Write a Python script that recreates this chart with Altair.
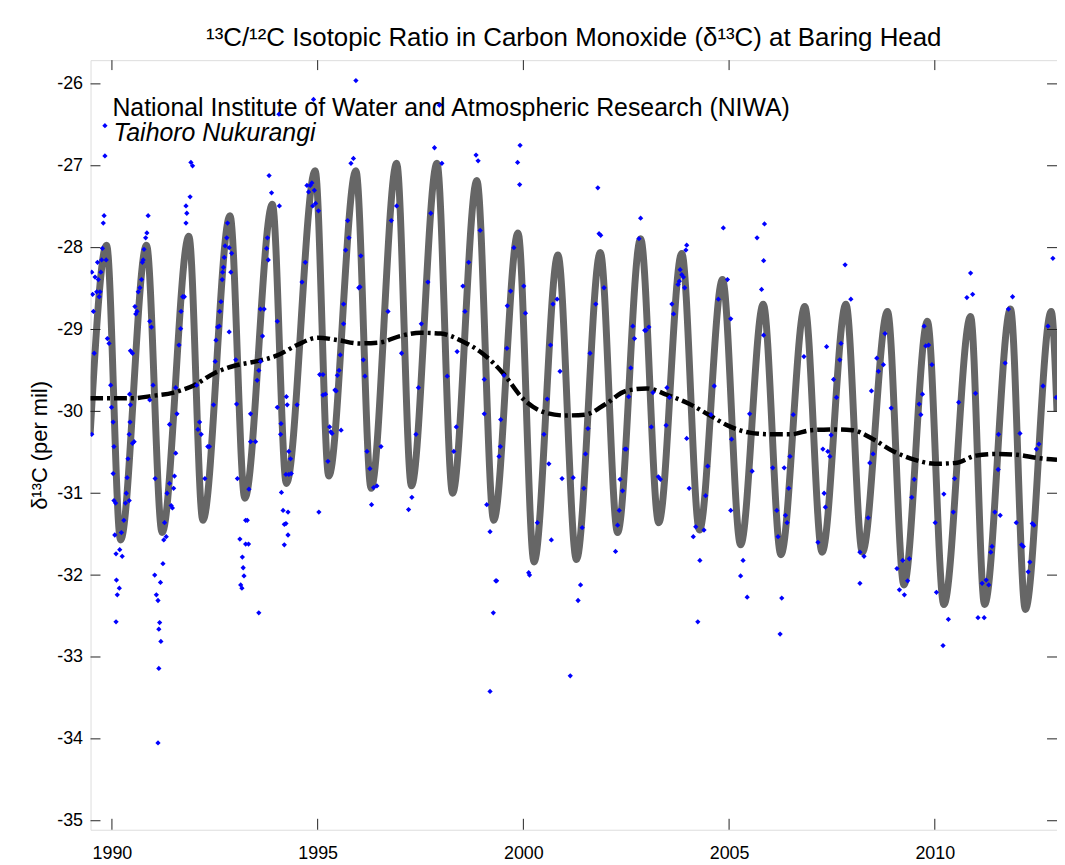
import altair as alt
import pandas as pd

TITLE = "¹³C/¹²C Isotopic Ratio in Carbon Monoxide (δ¹³C) at Baring Head"
Y_TITLE = "δ¹³C (per mil)"
NOTE1 = "National Institute of Water and Atmospheric Research (NIWA)"
NOTE2 = "Taihoro Nukurangi"

x_ticks = [1990, 1995, 2000, 2005, 2010]
y_ticks = [-26, -27, -28, -29, -30, -31, -32, -33, -34, -35]

# seasonal fit curve (turning points)
fit_year = [1989.47, 1989.87, 1990.21, 1990.84, 1991.22, 1991.87, 1992.21, 1992.87, 1993.23, 1993.90,
            1994.24, 1994.94, 1995.27, 1995.93, 1996.30, 1996.92, 1997.28, 1997.90, 1998.28, 1998.87,
            1999.28, 1999.87, 2000.26, 2000.84, 2001.29, 2001.87, 2002.29, 2002.85, 2003.29, 2003.85,
            2004.28, 2004.84, 2005.28, 2005.83, 2006.26, 2006.84, 2007.26, 2007.84, 2008.24, 2008.85,
            2009.25, 2009.82, 2010.22, 2010.87, 2011.21, 2011.84, 2012.20, 2012.83, 2012.97]
fit_val = [-30.28, -27.97, -31.57, -27.97, -31.48, -27.86, -31.33, -27.61, -31.06, -27.47,
           -30.88, -27.06, -30.79, -27.06, -30.94, -26.97, -30.91, -26.97, -31.00, -27.18,
           -31.33, -27.82, -31.84, -28.09, -31.81, -28.06, -31.48, -27.89, -31.36, -28.07,
           -31.45, -28.39, -31.63, -28.69, -31.75, -28.72, -31.72, -28.69, -31.72, -28.78,
           -32.12, -28.90, -32.36, -28.84, -32.36, -28.75, -32.42, -28.78, -30.0]

# long-term trend
trend_year = [1989.47, 1990.0, 1990.5, 1991.0, 1991.5, 1992.0, 1992.5, 1993.0, 1993.5, 1994.0,
              1994.5, 1995.0, 1995.5, 1996.0, 1996.5, 1997.0, 1997.5, 1998.0, 1998.5, 1999.0,
              1999.5, 2000.0, 2000.5, 2001.0, 2001.5, 2002.0, 2002.5, 2003.0, 2003.5, 2004.0,
              2004.5, 2005.0, 2005.5, 2006.0, 2006.5, 2007.0, 2007.5, 2008.0, 2008.5, 2009.0,
              2009.5, 2010.0, 2010.5, 2011.0, 2011.5, 2012.0, 2012.5, 2012.97]
trend_val = [-29.84, -29.84, -29.84, -29.81, -29.77, -29.68, -29.53, -29.44, -29.39, -29.32,
             -29.19, -29.10, -29.13, -29.17, -29.16, -29.08, -29.04, -29.05, -29.14, -29.29,
             -29.53, -29.85, -30.01, -30.05, -30.04, -29.91, -29.75, -29.72, -29.80, -29.90,
             -30.04, -30.18, -30.26, -30.28, -30.28, -30.23, -30.22, -30.23, -30.34, -30.49,
             -30.59, -30.64, -30.63, -30.54, -30.52, -30.53, -30.57, -30.59]

# flask observations
obs_year = [
    1989.51, 1989.53, 1989.55, 1989.57, 1989.51, 1989.59, 1989.63, 1989.65, 1989.67, 1989.69,
    1989.71, 1989.73, 1989.75, 1989.77, 1989.79, 1989.81, 1989.83, 1989.83, 1989.86, 1989.89,
    1989.93, 1989.97, 1989.99, 1990.03, 1990.05, 1990.03, 1990.05, 1990.09, 1990.07, 1990.10,
    1990.11, 1990.13, 1990.10, 1990.18, 1990.19, 1990.25, 1990.23, 1990.29, 1990.33, 1990.35,
    1990.37, 1990.39, 1990.42, 1990.44, 1990.45, 1990.43, 1990.50, 1990.54, 1990.42, 1990.45,
    1990.50, 1990.56, 1990.58, 1990.61, 1990.64, 1990.68, 1990.72, 1990.74, 1990.76, 1990.78,
    1990.82, 1990.85, 1990.88, 1990.92, 1990.96, 1991.00, 1990.92, 1991.05, 1991.04, 1991.08,
    1991.12, 1991.16, 1991.14, 1991.19, 1991.14, 1991.12, 1991.18, 1991.24, 1991.26, 1991.32,
    1991.28, 1991.34, 1991.40, 1991.44, 1991.47, 1991.50, 1991.52, 1991.40, 1991.55, 1991.58,
    1991.55, 1991.63, 1991.67, 1991.68, 1991.72, 1991.76, 1991.80, 1991.82, 1991.80, 1991.90,
    1991.92, 1991.96, 1992.06, 1992.09, 1992.13, 1992.17, 1992.26, 1992.33, 1992.37, 1992.47,
    1992.51, 1992.53, 1992.57, 1992.61, 1992.62, 1992.65, 1992.68, 1992.69, 1992.71, 1992.73,
    1992.75, 1992.79, 1992.81, 1992.85, 1992.89, 1992.91, 1992.85, 1993.01, 1993.03, 1993.05,
    1993.11, 1993.17, 1993.19, 1993.21, 1993.13, 1993.16, 1993.25, 1993.29, 1993.25, 1993.32,
    1993.33, 1993.37, 1993.37, 1993.49, 1993.57, 1993.53, 1993.57, 1993.61, 1993.66, 1993.61,
    1993.70, 1993.76, 1993.78, 1993.80, 1993.88, 1993.82, 1994.07, 1994.06, 1994.02, 1994.02,
    1994.11, 1994.10, 1994.12, 1994.16, 1994.19, 1994.23, 1994.28, 1994.28, 1994.19, 1994.23,
    1994.30, 1994.36, 1994.24, 1994.26, 1994.30, 1994.34, 1994.50, 1994.62, 1994.70, 1994.74,
    1994.78, 1994.82, 1994.86, 1994.88, 1994.90, 1994.92, 1994.95, 1995.02, 1995.03, 1995.05,
    1995.13, 1995.13, 1995.19, 1995.25, 1995.29, 1995.32, 1995.35, 1995.42, 1995.45, 1995.48,
    1995.52, 1995.55, 1995.57, 1995.63, 1995.63, 1995.68, 1995.73, 1995.76, 1995.81, 1995.87,
    1995.93, 1996.05, 1996.03, 1996.00, 1996.11, 1996.15, 1996.20, 1996.27, 1996.31, 1996.36,
    1996.44, 1996.54, 1996.71, 1996.79, 1996.92, 1997.04, 1997.21, 1997.29, 1997.39, 1997.45,
    1997.52, 1997.68, 1997.75, 1997.84, 1997.96, 1998.02, 1998.15, 1998.31, 1998.37, 1998.39,
    1998.53, 1998.58, 1998.67, 1998.85, 1998.90, 1998.95, 1999.05, 1999.05, 1999.11, 1999.19,
    1999.19, 1999.27, 1999.33, 1999.35, 1999.41, 1999.44, 1999.45, 1999.53, 1999.60, 1999.61,
    1999.69, 1999.77, 1999.86, 1999.92, 1999.91, 2000.01, 2000.05, 2000.13, 2000.15, 2000.34,
    2000.50, 2000.58, 2000.62, 2000.66, 2000.68, 2000.72, 2000.82, 2000.89, 2000.94, 2001.14,
    2001.21, 2001.33, 2001.39, 2001.43, 2001.47, 2001.51, 2001.57, 2001.62, 2001.76, 2001.81,
    2001.84, 2001.88, 2001.96, 2002.24, 2002.29, 2002.33, 2002.35, 2002.41, 2002.47, 2002.50,
    2002.56, 2002.61, 2002.66, 2002.70, 2002.85, 2002.81, 2002.95, 2002.98, 2003.05, 2003.11,
    2003.15, 2003.28, 2003.33, 2003.47, 2003.49, 2003.55, 2003.61, 2003.65, 2003.76, 2003.79,
    2003.81, 2003.85, 2003.89, 2003.92, 2003.95, 2003.97, 2003.97, 2004.03, 2004.13, 2004.19,
    2004.24, 2004.29, 2004.39, 2004.43, 2004.48, 2004.56, 2004.64, 2004.74, 2004.86, 2004.96,
    2005.04, 2005.04, 2005.06, 2005.28, 2005.34, 2005.44, 2005.50, 2005.56, 2005.68, 2005.79,
    2005.84, 2005.86, 2005.84, 2006.06, 2006.16, 2006.19, 2006.24, 2006.28, 2006.34, 2006.37,
    2006.41, 2006.45, 2006.48, 2006.56, 2006.82, 2007.16, 2007.28, 2007.31, 2007.34, 2007.37,
    2007.40, 2007.45, 2007.48, 2007.54, 2007.61, 2007.69, 2007.72, 2007.82, 2007.96, 2008.18,
    2008.18, 2008.28, 2008.38, 2008.42, 2008.46, 2008.50, 2008.59, 2008.63, 2008.75, 2008.79,
    2008.94, 2009.08, 2009.14, 2009.22, 2009.26, 2009.34, 2009.38, 2009.44, 2009.50, 2009.62,
    2009.66, 2009.70, 2009.74, 2009.78, 2009.85, 2009.93, 2010.01, 2010.04, 2010.20, 2010.22,
    2010.33, 2010.45, 2010.48, 2010.58, 2010.78, 2010.87, 2010.92, 2010.99, 2011.05, 2011.20,
    2011.15, 2011.25, 2011.31, 2011.36, 2011.39, 2011.46, 2011.55, 2011.59, 2011.54, 2011.71,
    2011.79, 2011.89, 2011.98, 2012.07, 2012.11, 2012.15, 2012.27, 2012.31, 2012.37, 2012.41,
    2012.47, 2012.53, 2012.63, 2012.75, 2012.87, 2012.95]
obs_val = [
    -28.30, -28.57, -28.78, -29.29, -30.28, -28.36, -28.54, -28.18, -28.39, -28.60,
    -28.54, -28.30, -28.15, -28.01, -27.70, -27.61, -26.88, -26.51, -28.15, -29.11,
    -29.17, -29.68, -29.95, -30.13, -30.43, -30.76, -31.09, -31.12, -31.51, -31.74,
    -32.06, -32.24, -32.57, -32.16, -31.69, -31.77, -31.48, -31.33, -31.12, -31.00,
    -30.81, -30.58, -30.28, -30.13, -29.92, -29.79, -30.39, -30.37, -31.09, -29.26,
    -29.29, -28.72, -28.81, -28.78, -28.54, -28.49, -28.39, -28.18, -28.15, -28.02,
    -27.88, -27.82, -27.61, -28.90, -28.97, -29.68, -29.86, -30.82, -32.00, -32.24,
    -32.31, -32.58, -32.66, -32.81, -33.14, -34.05, -32.09, -31.86, -31.57, -31.53,
    -31.36, -31.00, -30.88, -31.15, -31.18, -30.94, -30.79, -30.16, -30.51, -30.03,
    -29.71, -29.19, -28.99, -28.78, -28.60, -28.60, -27.49, -27.58, -27.70, -27.38,
    -26.96, -27.00, -29.68, -30.22, -30.13, -30.28, -30.82, -30.43, -30.43, -29.92,
    -29.39, -29.13, -28.97, -28.96, -28.78, -28.66, -28.39, -28.30, -28.24, -28.12,
    -27.98, -27.88, -27.70, -28.00, -28.30, -28.07, -29.03, -29.37, -29.91, -30.82,
    -31.56, -31.78, -31.91, -32.01, -32.12, -32.16, -31.33, -31.33, -31.62, -31.62,
    -30.95, -30.37, -30.03, -30.37, -32.46, -29.62, -29.50, -29.39, -29.08, -28.75,
    -28.75, -28.01, -27.88, -28.15, -27.33, -27.12, -27.49, -26.37, -28.90, -29.95,
    -30.15, -30.28, -30.99, -31.21, -31.38, -31.37, -31.23, -31.51, -31.63, -30.77,
    -30.77, -30.76, -29.82, -29.92, -30.49, -30.58, -29.92, -28.42, -28.18, -27.24,
    -27.32, -27.24, -27.21, -27.49, -26.19, -27.30, -27.46, -27.55, -31.23, -29.55,
    -29.55, -29.80, -29.79, -30.61, -30.19, -30.25, -30.27, -29.74, -29.75, -29.56,
    -29.50, -29.31, -30.23, -28.93, -28.69, -28.03, -27.67, -27.88, -26.97, -26.91,
    -25.96, -28.10, -28.48, -28.49, -29.37, -29.57, -30.49, -30.70, -31.14, -30.93,
    -30.91, -30.43, -28.78, -27.67, -27.49, -29.29, -31.20, -31.05, -30.28, -29.71,
    -28.93, -28.42, -27.58, -26.78, -26.26, -26.97, -29.57, -30.49, -30.19, -29.27,
    -28.47, -28.78, -28.18, -26.87, -26.94, -27.79, -29.61, -30.03, -31.14, -31.47,
    -33.42, -32.46, -32.07, -32.07, -30.55, -30.43, -30.10, -29.56, -29.23, -28.71,
    -28.53, -28.00, -26.96, -26.75, -27.23, -28.47, -28.80, -31.97, -32.00, -31.36,
    -30.28, -29.85, -30.64, -29.19, -31.57, -28.69, -28.63, -29.51, -30.82, -33.23,
    -30.81, -32.31, -32.12, -31.42, -30.94, -30.52, -30.21, -29.29, -28.69, -27.27,
    -27.83, -27.85, -28.49, -31.71, -31.39, -31.21, -30.83, -30.97, -30.46, -30.46,
    -29.82, -29.47, -28.96, -29.11, -27.64, -27.89, -29.01, -29.01, -28.97, -30.19,
    -29.77, -30.80, -30.83, -30.17, -29.71, -29.83, -28.69, -28.81, -28.45, -28.41,
    -28.27, -28.33, -28.36, -28.49, -28.03, -27.97, -30.33, -30.94, -31.53, -31.41,
    -32.57, -31.82, -31.45, -31.03, -30.67, -30.04, -29.69, -28.63, -27.76, -28.39,
    -31.21, -28.87, -30.34, -32.01, -31.82, -32.27, -30.03, -30.73, -27.88, -28.51,
    -28.16, -27.71, -29.07, -30.69, -31.21, -31.53, -32.72, -32.28, -30.69, -31.27,
    -31.36, -30.94, -30.55, -30.04, -29.33, -31.60, -30.46, -31.00, -31.17, -29.21,
    -30.49, -30.55, -30.29, -29.61, -29.83, -29.37, -29.17, -28.21, -28.63, -32.10,
    -31.72, -31.77, -31.30, -30.63, -29.75, -30.52, -29.35, -29.51, -29.43, -29.05,
    -29.96, -31.92, -32.18, -31.82, -32.24, -32.07, -31.80, -31.05, -30.83, -29.91,
    -30.04, -29.79, -28.96, -29.20, -29.19, -29.43, -31.36, -32.21, -32.86, -31.01,
    -32.54, -31.23, -30.82, -29.89, -28.61, -28.31, -28.57, -29.78, -32.52, -32.52,
    -32.10, -32.06, -32.12, -31.72, -31.65, -31.23, -30.28, -31.27, -30.71, -29.41,
    -28.75, -28.60, -31.36, -30.27, -31.63, -31.65, -31.96, -31.84, -31.37, -31.39,
    -30.46, -30.40, -29.69, -28.96, -28.13, -29.83]

W, H = 972, 774
FONT = "Liberation Sans"

obs = pd.DataFrame({"year": obs_year, "val": obs_val})
fit = pd.DataFrame({"year": fit_year, "val": fit_val})
trend = pd.DataFrame({"year": trend_year, "val": trend_val})
xt = pd.DataFrame({"year": x_ticks})
yt = pd.DataFrame({"val": y_ticks})

xs = alt.Scale(domain=[1989.48, 2012.97], nice=False, zero=False)
ys = alt.Scale(domain=[-35.11, -25.71], nice=False, zero=False)
xaxis = alt.Axis(values=x_ticks, format="d", title=None, ticks=False, tickSize=0, domain=False,
                 grid=False, labelFontSize=18, labelPadding=15, labelColor="black", labelFont=FONT)
yaxis = alt.Axis(values=y_ticks, title=Y_TITLE, ticks=False, tickSize=0, domain=False, grid=False,
                 labelFontSize=18, labelPadding=8, labelColor="black", labelFont=FONT,
                 labelExpr="'' + datum.value", titleFont=FONT, titleFontSize=22,
                 titleFontWeight="normal", titleColor="black", titlePadding=5)
X = alt.X("year:Q", scale=xs, axis=xaxis)
Y = alt.Y("val:Q", scale=ys, axis=yaxis)

title = alt.Chart(pd.DataFrame({"t": [TITLE]})).mark_text(
    align="center", baseline="alphabetic", fontSize=26, font=FONT, color="black"
).encode(text="t:N", x=alt.value(W / 2), y=alt.value(-14))
note1 = alt.Chart(pd.DataFrame({"t": [NOTE1]})).mark_text(
    align="left", baseline="alphabetic", fontSize=25, font=FONT, color="black"
).encode(text="t:N", x=alt.value(22), y=alt.value(56))
note2 = alt.Chart(pd.DataFrame({"t": [NOTE2]})).mark_text(
    align="left", baseline="alphabetic", fontSize=25, font=FONT, fontStyle="italic", color="black"
).encode(text="t:N", x=alt.value(23), y=alt.value(81))

fit_line = alt.Chart(fit).mark_line(color="#666666", strokeWidth=7, interpolate="monotone",
                                    clip=True).encode(x=X, y=Y)
trend_line = alt.Chart(trend).mark_line(color="black", strokeWidth=4.5, strokeDash=[13, 4, 3, 4],
                                        interpolate="monotone", clip=True).encode(x=X, y=Y)
points = alt.Chart(obs).mark_point(shape="diamond", filled=True, size=28, color="#0000ff",
                                   opacity=1, clip=True).encode(x=X, y=Y)

tick_style = dict(color="#222222", strokeWidth=1)
bottom_ticks = alt.Chart(xt).mark_rule(**tick_style).encode(x=X, y=alt.value(H), y2=alt.value(H - 11))
top_ticks = alt.Chart(xt).mark_rule(**tick_style).encode(x=X, y=alt.value(0), y2=alt.value(10))
left_ticks = alt.Chart(yt).mark_rule(**tick_style).encode(y=Y, x=alt.value(0), x2=alt.value(10))
right_ticks = alt.Chart(yt).mark_rule(**tick_style).encode(y=Y, x=alt.value(W - 10), x2=alt.value(W))

chart = alt.layer(
    title, note1, note2, fit_line, trend_line, points,
    bottom_ticks, top_ticks, left_ticks, right_ticks
).properties(
    width=W, height=H,
    autosize=alt.AutoSizeParams(type="none"),
    padding={"left": 83, "top": 50, "right": 0, "bottom": 30},
).configure_view(stroke="#7a7a7a", strokeWidth=2).configure(background="white")

chart.save("out.html", embed_options={"renderer": "svg", "actions": False})
